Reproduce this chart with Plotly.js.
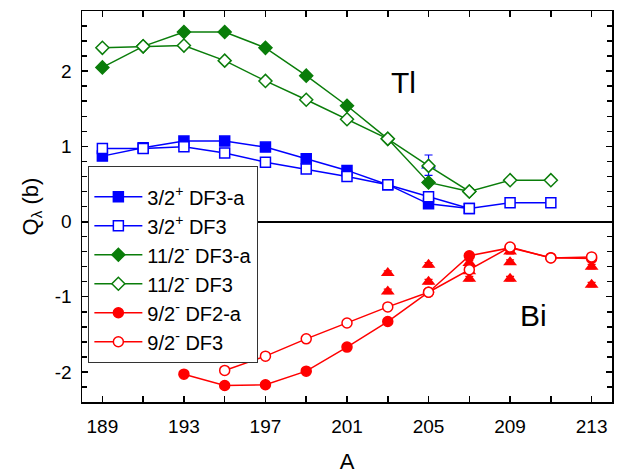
<!DOCTYPE html>
<html>
<head>
<meta charset="utf-8">
<script src="https://cdn.plot.ly/plotly-3.0.1.min.js"></script>
<style>html,body{margin:0;padding:0;background:#fff;}</style>
</head>
<body>
<div id="chart" style="width:625px;height:474px;"></div>
<script>
// Tl isotopes
const tlA_a = [189,191,193,195,197,199,201,203,205,207];
const tlA_b = [189,191,193,195,197,199,201,203,205,207,209,211];
const q32_DF3a = [0.87,0.98,1.07,1.07,0.99,0.835,0.68,0.49,0.235,0.175];
const q32_DF3  = [0.97,0.97,0.995,0.91,0.79,0.70,0.60,0.49,0.33,0.175,0.25,0.25];
const q112_DF3a = [2.05,2.33,2.52,2.52,2.31,1.94,1.54,1.10,0.52,0.40];
const q112_DF3  = [2.31,2.33,2.34,2.14,1.87,1.62,1.36,1.10,0.74,0.40,0.55,0.55];
// Bi isotopes
const biA_a = [193,195,197,199,201,203,205,207,209,211,213];
const biA_b = [195,197,199,201,203,205,207,209,211,213];
const q92_DF2a = [-2.03,-2.18,-2.17,-1.99,-1.67,-1.33,-0.94,-0.455,-0.35,-0.48,-0.49];
const q92_DF3  = [-1.98,-1.79,-1.56,-1.35,-1.135,-0.94,-0.64,-0.34,-0.485,-0.47];
// experimental
const tlExpA = [205];
const tlExpQ = [0.75];
const tlExpErr = [0.135];
const biExpA = [203,203,205,205,207,207,207,209,209,209,213,213];
const biExpQ = [-0.685,-0.93,-0.575,-0.80,-0.55,-0.66,-0.76,-0.40,-0.54,-0.76,-0.60,-0.84];
const biExpErr = [0.03,0.03,0.03,0.03,0.03,0.03,0.03,0.03,0.03,0.03,0.03,0.03];

const legendNames = ['3/2<sup>+</sup> DF3-a','3/2<sup>+</sup> DF3','11/2<sup>-</sup> DF3-a','11/2<sup>-</sup> DF3','9/2<sup>-</sup> DF2-a','9/2<sup>-</sup> DF3'];
const xTicks = [189,193,197,201,205,209,213];
const yTicks = [-2,-1,0,1,2];
const yTickText = ['-2','-1','0','1','2'];

const BLUE='#0000ff', GREEN='#0a7d0a', RED='#ff0000';
const F = 'Arial, "Liberation Sans", sans-serif';

function tr(x,y,name,color,symbol,filled,size,grp){
  return {x:x,y:y,name:name,type:'scatter',mode:'lines+markers',legendgroup:grp,
    line:{color:color,width:1.5},
    marker:{symbol:symbol,size:size,color:filled?color:'#ffffff',line:{color:color,width:1.5}}};
}
const traces = [
  {x:tlExpA,y:tlExpQ,type:'scatter',mode:'markers',showlegend:false,
   marker:{symbol:'triangle-up',size:13,color:BLUE},
   error_y:{type:'data',array:tlExpErr,visible:true,color:BLUE,thickness:1.2,width:4}},
  {x:biExpA,y:biExpQ,type:'scatter',mode:'markers',showlegend:false,
   marker:{symbol:'triangle-up',size:12,color:RED},
   error_y:{type:'data',array:biExpErr,visible:true,color:RED,thickness:1.2,width:4}},
  tr(tlA_a,q32_DF3a,legendNames[0],BLUE,'square',true,10,'g1'),
  tr(tlA_b,q32_DF3,legendNames[1],BLUE,'square',false,10,'g2'),
  tr(tlA_a,q112_DF3a,legendNames[2],GREEN,'diamond',true,10,'g3'),
  tr(tlA_b,q112_DF3,legendNames[3],GREEN,'diamond',false,10,'g4'),
  tr(biA_a,q92_DF2a,legendNames[4],RED,'circle',true,10,'g5'),
  tr(biA_b,q92_DF3,legendNames[5],RED,'circle',false,10,'g6')
];

const layout = {
  width:625,height:474,
  margin:{l:82,r:13,t:11,b:72,pad:0},
  paper_bgcolor:'#fff',plot_bgcolor:'#fff',
  font:{family:F,color:'#000',size:19},
  showlegend:true,
  xaxis:{range:[188,214],tickmode:'array',tickvals:xTicks,ticktext:xTicks.map(String),
    ticks:'inside',ticklen:6,tickwidth:1.5,tickcolor:'#000',
    minor:{tickmode:'linear',tick0:189,dtick:2,ticks:'inside',ticklen:6,tickwidth:1.5,tickcolor:'#000'},
    showline:true,linewidth:1.5,linecolor:'#000',mirror:'ticks',
    showgrid:false,zeroline:false,ticklabelstandoff:7,
    tickfont:{size:19,family:F},
    title:{text:'A',font:{size:22,family:F},standoff:17}},
  yaxis:{range:[-2.4,2.8],tickmode:'array',tickvals:yTicks,ticktext:yTickText,
    ticks:'inside',ticklen:6,tickwidth:1.5,tickcolor:'#000',
    minor:{tickmode:'linear',tick0:0,dtick:0.2,ticks:'inside',ticklen:5,tickwidth:1.5,tickcolor:'#000'},
    showline:true,linewidth:1.5,linecolor:'#000',mirror:'ticks',
    showgrid:false,zeroline:true,zerolinecolor:'#000',zerolinewidth:2,
    ticklabelstandoff:5,tickfont:{size:19,family:F},
    title:{text:'Q<sub>λ</sub> (b)',font:{size:22,family:F},standoff:10}},
  legend:{x:0.012,y:0.604,xanchor:'left',yanchor:'top',bgcolor:'#fff',
    bordercolor:'#333',borderwidth:1,font:{size:20,family:F},
    title:{text:'\u00a0',font:{size:8,family:F}},
    traceorder:'grouped',tracegroupgap:0,itemwidth:48},
  annotations:[
    {x:203.75,y:1.85,xref:'x',yref:'y',text:'Tl',showarrow:false,font:{size:30,family:F,color:'#000'}},
    {x:210.15,y:-1.25,xref:'x',yref:'y',text:'Bi',showarrow:false,font:{size:30,family:F,color:'#000'}}
  ]
};
Plotly.newPlot('chart',traces,layout,{displayModeBar:false,staticPlot:true});
</script>
</body>
</html>
